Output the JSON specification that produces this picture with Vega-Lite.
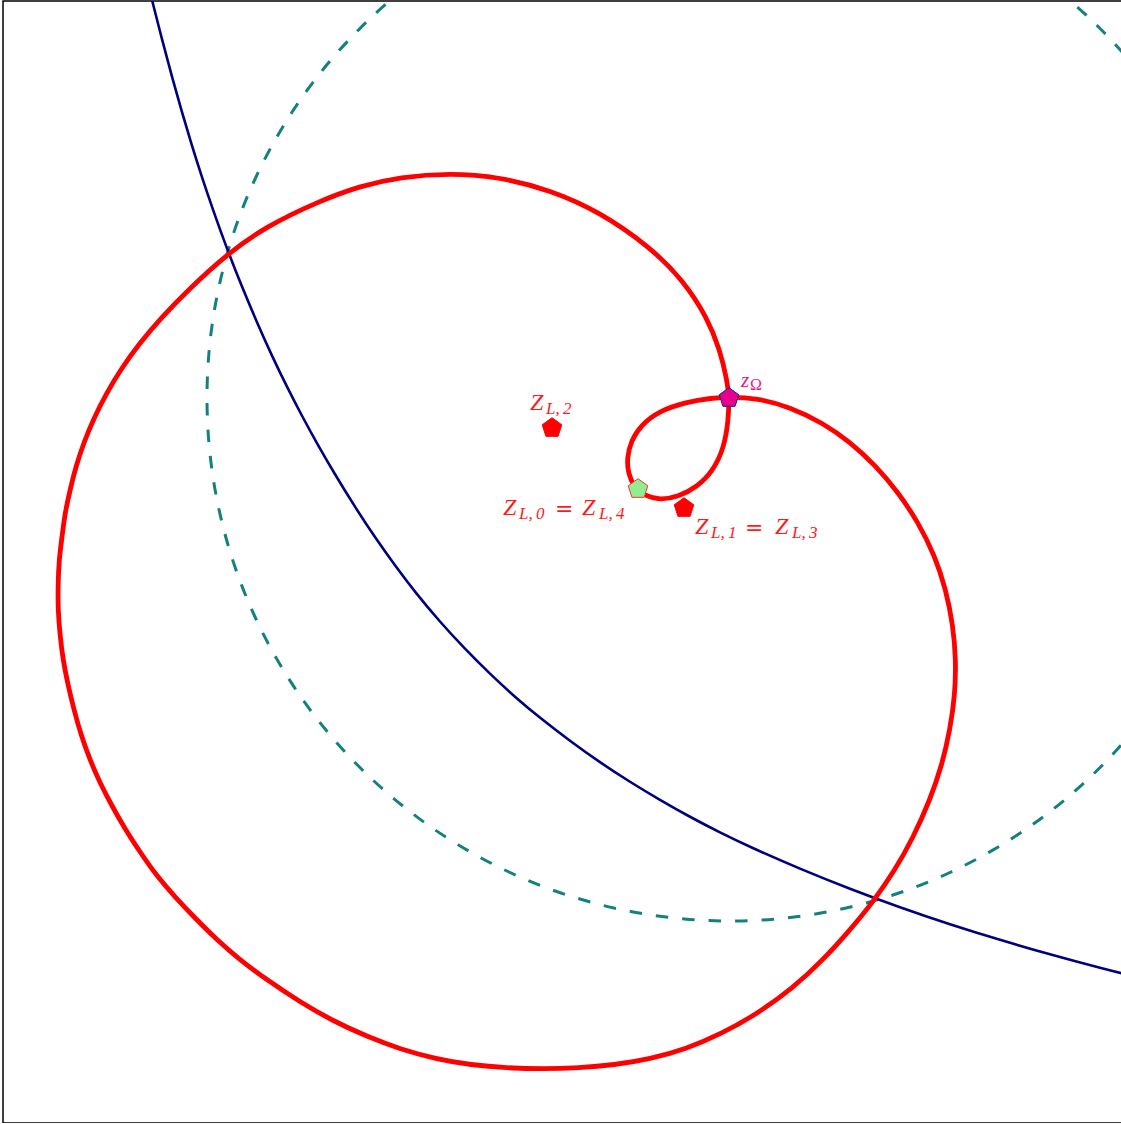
{
  "$schema": "https://vega.github.io/schema/vega-lite/v6.json",
  "width": 1119,
  "height": 1122,
  "autosize": "none",
  "padding": {"left": 3, "top": 1, "right": 0, "bottom": 0},
  "background": "white",
  "config": {"view": {"stroke": "black", "strokeWidth": 1.5}},
  "datasets": {
    "teal": [
      {"i":0,"x":991.5,"y":-54.9},{"i":1,"x":1030.0,"y":-30.4},{"i":2,"x":1066.2,"y":-2.6},{"i":3,"x":1099.8,"y":28.2},{"i":4,"x":1130.6,"y":61.8},{"i":5,"x":1158.4,"y":98.0},{"i":6,"x":1182.9,"y":136.5},{"i":7,"x":1204.0,"y":177.0},{"i":8,"x":1221.5,"y":219.1},{"i":9,"x":1235.2,"y":262.6},{"i":10,"x":1245.1,"y":307.2},{"i":11,"x":1251.0,"y":352.4},{"i":12,"x":1253,"y":398},{"i":13,"x":1251.0,"y":443.6},{"i":14,"x":1245.1,"y":488.8},{"i":15,"x":1235.2,"y":533.4},{"i":16,"x":1221.5,"y":576.9},{"i":17,"x":1204.0,"y":619.0},{"i":18,"x":1182.9,"y":659.5},{"i":19,"x":1158.4,"y":698.0},{"i":20,"x":1130.6,"y":734.2},{"i":21,"x":1099.8,"y":767.8},{"i":22,"x":1066.2,"y":798.6},{"i":23,"x":1030.0,"y":826.4},{"i":24,"x":991.5,"y":850.9},{"i":25,"x":951.0,"y":872.0},{"i":26,"x":908.9,"y":889.5},{"i":27,"x":865.4,"y":903.2},{"i":28,"x":820.8,"y":913.1},{"i":29,"x":775.6,"y":919.0},{"i":30,"x":730,"y":921},{"i":31,"x":684.4,"y":919.0},{"i":32,"x":639.2,"y":913.1},{"i":33,"x":594.6,"y":903.2},{"i":34,"x":551.1,"y":889.5},{"i":35,"x":509.0,"y":872.0},{"i":36,"x":468.5,"y":850.9},{"i":37,"x":430.0,"y":826.4},{"i":38,"x":393.8,"y":798.6},{"i":39,"x":360.2,"y":767.8},{"i":40,"x":329.4,"y":734.2},{"i":41,"x":301.6,"y":698.0},{"i":42,"x":277.1,"y":659.5},{"i":43,"x":256.0,"y":619.0},{"i":44,"x":238.5,"y":576.9},{"i":45,"x":224.8,"y":533.4},{"i":46,"x":214.9,"y":488.8},{"i":47,"x":209.0,"y":443.6},{"i":48,"x":207,"y":398},{"i":49,"x":209.0,"y":352.4},{"i":50,"x":214.9,"y":307.2},{"i":51,"x":224.8,"y":262.6},{"i":52,"x":238.5,"y":219.1},{"i":53,"x":256.0,"y":177.0},{"i":54,"x":277.1,"y":136.5},{"i":55,"x":301.6,"y":98.0},{"i":56,"x":329.4,"y":61.8},{"i":57,"x":360.2,"y":28.2},{"i":58,"x":393.8,"y":-2.6},{"i":59,"x":430.0,"y":-30.4},{"i":60,"x":468.5,"y":-54.9}
    ],
    "blue": [
      {"i":0,"x":147,"y":-20},{"i":1,"x":152,"y":0},{"i":2,"x":162,"y":39.5},{"i":3,"x":172,"y":77},{"i":4,"x":182,"y":112.5},{"i":5,"x":192,"y":146},{"i":6,"x":202,"y":177.5},{"i":7,"x":212,"y":207},{"i":8,"x":227,"y":249},{"i":9,"x":242,"y":287},{"i":10,"x":257,"y":322.5},{"i":11,"x":272,"y":356},{"i":12,"x":287,"y":387},{"i":13,"x":302,"y":416},{"i":14,"x":317,"y":443.5},{"i":15,"x":335,"y":474.5},{"i":16,"x":355,"y":507},{"i":17,"x":375,"y":537.5},{"i":18,"x":395,"y":565.5},{"i":19,"x":415,"y":592},{"i":20,"x":440,"y":622},{"i":21,"x":465,"y":649},{"i":22,"x":490,"y":674},{"i":23,"x":515,"y":697},{"i":24,"x":540,"y":718},{"i":25,"x":570,"y":741},{"i":26,"x":600,"y":762.5},{"i":27,"x":630,"y":782},{"i":28,"x":660,"y":800},{"i":29,"x":690,"y":817},{"i":30,"x":720,"y":832.5},{"i":31,"x":750,"y":847},{"i":32,"x":800,"y":869},{"i":33,"x":850,"y":889},{"i":34,"x":900,"y":907.5},{"i":35,"x":950,"y":924.5},{"i":36,"x":1000,"y":940},{"i":37,"x":1050,"y":954.5},{"i":38,"x":1100,"y":968},{"i":39,"x":1150,"y":980.5},{"i":40,"x":1200,"y":992}
    ],
    "red": [
      {"i":0,"x":729,"y":397},{"i":1,"x":728.5,"y":420},{"i":2,"x":724,"y":448},{"i":3,"x":713,"y":471},{"i":4,"x":697,"y":487},{"i":5,"x":678,"y":497},{"i":6,"x":660,"y":500},{"i":7,"x":645,"y":496},{"i":8,"x":634,"y":487},{"i":9,"x":628,"y":473},{"i":10,"x":627,"y":458},{"i":11,"x":631,"y":441},{"i":12,"x":641,"y":425},{"i":13,"x":659,"y":411},{"i":14,"x":686,"y":402},{"i":15,"x":712,"y":398},{"i":16,"x":729,"y":397},{"i":17,"x":757,"y":398},{"i":18,"x":790,"y":407},{"i":19,"x":823,"y":423},{"i":20,"x":850,"y":442},{"i":21,"x":875,"y":465},{"i":22,"x":898,"y":492},{"i":23,"x":918,"y":522},{"i":24,"x":935,"y":556},{"i":25,"x":946,"y":590},{"i":26,"x":953,"y":625},{"i":27,"x":956,"y":660},{"i":28,"x":955,"y":695},{"i":29,"x":950,"y":730},{"i":30,"x":942,"y":765},{"i":31,"x":930,"y":800},{"i":32,"x":913,"y":838},{"i":33,"x":895,"y":870},{"i":34,"x":873,"y":902},{"i":35,"x":850,"y":930},{"i":36,"x":823,"y":960},{"i":37,"x":793,"y":988},{"i":38,"x":757,"y":1014},{"i":39,"x":721,"y":1034},{"i":40,"x":686,"y":1049},{"i":41,"x":650,"y":1059},{"i":42,"x":614,"y":1065},{"i":43,"x":579,"y":1068},{"i":44,"x":543,"y":1069},{"i":45,"x":507,"y":1068},{"i":46,"x":471,"y":1065},{"i":47,"x":436,"y":1059},{"i":48,"x":400,"y":1049},{"i":49,"x":368,"y":1037},{"i":50,"x":333,"y":1021},{"i":51,"x":300,"y":1002},{"i":52,"x":267,"y":980},{"i":53,"x":240,"y":960},{"i":54,"x":216,"y":939},{"i":55,"x":195,"y":918},{"i":56,"x":175,"y":897},{"i":57,"x":156,"y":875},{"i":58,"x":140,"y":852},{"i":59,"x":125,"y":829},{"i":60,"x":112,"y":806},{"i":61,"x":100,"y":783},{"i":62,"x":90,"y":760},{"i":63,"x":81,"y":735},{"i":64,"x":74,"y":710},{"i":65,"x":68,"y":685},{"i":66,"x":63,"y":660},{"i":67,"x":60,"y":635},{"i":68,"x":58,"y":610},{"i":69,"x":58,"y":585},{"i":70,"x":59,"y":560},{"i":71,"x":62,"y":537},{"i":72,"x":65,"y":513},{"i":73,"x":70,"y":490},{"i":74,"x":76,"y":466},{"i":75,"x":84,"y":442},{"i":76,"x":94,"y":418},{"i":77,"x":106,"y":394},{"i":78,"x":121,"y":369},{"i":79,"x":139,"y":344},{"i":80,"x":161,"y":318},{"i":81,"x":188,"y":290},{"i":82,"x":227,"y":254},{"i":83,"x":267,"y":226},{"i":84,"x":317,"y":202},{"i":85,"x":360,"y":186},{"i":86,"x":400,"y":177},{"i":87,"x":450,"y":173},{"i":88,"x":500,"y":177},{"i":89,"x":550,"y":190},{"i":90,"x":600,"y":212},{"i":91,"x":650,"y":247},{"i":92,"x":683,"y":280},{"i":93,"x":707,"y":317},{"i":94,"x":720,"y":350},{"i":95,"x":727,"y":380},{"i":96,"x":729,"y":397}
    ],
    "pts": [
      {"n":"zO","x":729,"y":398},{"n":"Z2","x":552,"y":428},{"n":"Z0","x":638,"y":489},{"n":"Z1","x":684,"y":508}
    ],
    "labels": [
      {"g":"r","p":"m","x":530,"y":410,"t":"Z"},
      {"g":"r","p":"s","x":546,"y":414,"t":"L,\u20092"},
      {"g":"r","p":"m","x":503,"y":515,"t":"Z"},
      {"g":"r","p":"s","x":519,"y":519,"t":"L,\u20090"},
      {"g":"r","p":"e","x":555,"y":516,"t":"="},
      {"g":"r","p":"m","x":582,"y":515,"t":"Z"},
      {"g":"r","p":"s","x":599,"y":519,"t":"L,\u20094"},
      {"g":"r","p":"m","x":695,"y":534,"t":"Z"},
      {"g":"r","p":"s","x":711,"y":538,"t":"L,\u20091"},
      {"g":"r","p":"e","x":745,"y":535,"t":"="},
      {"g":"r","p":"m","x":775,"y":534,"t":"Z"},
      {"g":"r","p":"s","x":792,"y":538,"t":"L,\u20093"},
      {"g":"m","p":"z","x":741,"y":387,"t":"z"},
      {"g":"m","p":"o","x":750,"y":390,"t":"Ω"}
    ]
  },
  "encoding": {
    "x": {"field": "x", "type": "quantitative", "scale": {"domain": [3, 1122], "nice": false, "zero": false}, "axis": null},
    "y": {"field": "y", "type": "quantitative", "scale": {"domain": [1, 1123], "nice": false, "zero": false, "reverse": true}, "axis": null}
  },
  "layer": [
    {
      "data": {"name": "teal"},
      "mark": {"type": "line", "clip": true, "color": "#148080", "strokeWidth": 3, "strokeDash": [12.5, 14], "interpolate": "catmull-rom"},
      "encoding": {"order": {"field": "i", "type": "quantitative"}}
    },
    {
      "data": {"name": "blue"},
      "mark": {"type": "line", "clip": true, "color": "#00007f", "strokeWidth": 2.6, "interpolate": "basis"},
      "encoding": {"order": {"field": "i", "type": "quantitative"}}
    },
    {
      "data": {"name": "red"},
      "mark": {"type": "line", "clip": true, "color": "#ff0000", "strokeWidth": 4.8, "interpolate": "basis", "strokeJoin": "round"},
      "encoding": {"order": {"field": "i", "type": "quantitative"}}
    },
    {
      "data": {"name": "pts"},
      "mark": {"type": "point", "filled": true, "opacity": 1, "shape": "M0,-1L0.951,-0.309L0.588,0.809L-0.588,0.809L-0.951,-0.309Z", "size": 424, "strokeWidth": 1},
      "encoding": {
        "fill": {"field": "n", "type": "nominal", "legend": null, "scale": {"domain": ["zO", "Z2", "Z0", "Z1"], "range": ["#e6008c", "#ff0000", "#90ee90", "#ff0000"]}},
        "stroke": {"field": "n", "type": "nominal", "legend": null, "scale": {"domain": ["zO", "Z2", "Z0", "Z1"], "range": ["#1a1a8c", "#ff0000", "#ff3030", "#ff0000"]}}
      }
    },
    {
      "data": {"name": "labels"},
      "transform": [{"filter": "datum.p == 'm'"}],
      "mark": {"type": "text", "align": "left", "baseline": "alphabetic", "font": "Liberation Serif", "fontStyle": "italic", "fontSize": 24},
      "encoding": {
        "text": {"field": "t"},
        "color": {"field": "g", "type": "nominal", "legend": null, "scale": {"domain": ["r", "m"], "range": ["#ff1a1a", "#e6198c"]}}
      }
    },
    {
      "data": {"name": "labels"},
      "transform": [{"filter": "datum.p == 's'"}],
      "mark": {"type": "text", "align": "left", "baseline": "alphabetic", "font": "Liberation Serif", "fontStyle": "italic", "fontSize": 17},
      "encoding": {
        "text": {"field": "t"},
        "color": {"field": "g", "type": "nominal", "legend": null, "scale": {"domain": ["r", "m"], "range": ["#ff1a1a", "#e6198c"]}}
      }
    },
    {
      "data": {"name": "labels"},
      "transform": [{"filter": "datum.p == 'e'"}],
      "mark": {"type": "text", "align": "left", "baseline": "alphabetic", "font": "DejaVu Serif", "fontSize": 22},
      "encoding": {
        "text": {"field": "t"},
        "color": {"field": "g", "type": "nominal", "legend": null, "scale": {"domain": ["r", "m"], "range": ["#ff1a1a", "#e6198c"]}}
      }
    },
    {
      "data": {"name": "labels"},
      "transform": [{"filter": "datum.p == 'z'"}],
      "mark": {"type": "text", "align": "left", "baseline": "alphabetic", "font": "Liberation Serif", "fontStyle": "italic", "fontSize": 21},
      "encoding": {
        "text": {"field": "t"},
        "color": {"field": "g", "type": "nominal", "legend": null, "scale": {"domain": ["r", "m"], "range": ["#ff1a1a", "#e6198c"]}}
      }
    },
    {
      "data": {"name": "labels"},
      "transform": [{"filter": "datum.p == 'o'"}],
      "mark": {"type": "text", "align": "left", "baseline": "alphabetic", "font": "Liberation Serif", "fontSize": 16},
      "encoding": {
        "text": {"field": "t"},
        "color": {"field": "g", "type": "nominal", "legend": null, "scale": {"domain": ["r", "m"], "range": ["#ff1a1a", "#e6198c"]}}
      }
    }
  ]
}
